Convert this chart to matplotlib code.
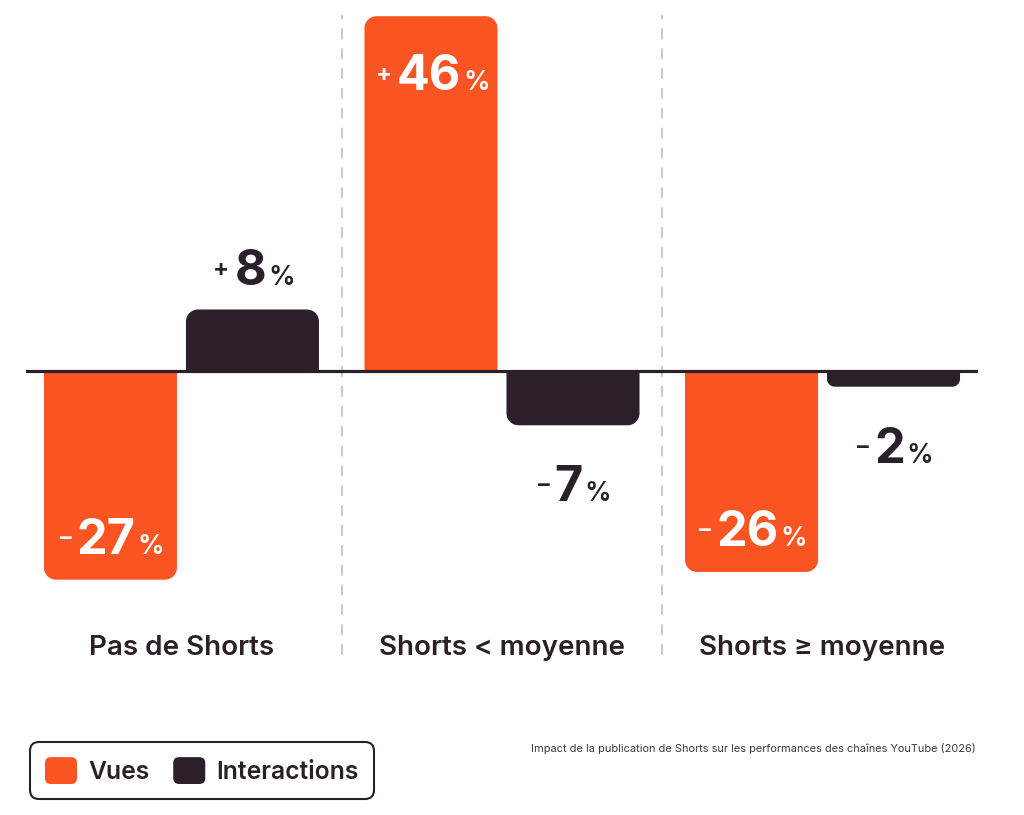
import matplotlib
matplotlib.use("Agg")
import matplotlib.pyplot as plt
from matplotlib.patches import FancyBboxPatch, PathPatch, Patch
from matplotlib.path import Path
from matplotlib.legend_handler import HandlerPatch

# ---------------- data ----------------
categories = ["Pas de Shorts", "Shorts < moyenne", "Shorts \u2265 moyenne"]
series_names = ["Vues", "Interactions"]
vues = [-27, 46, -26]
interactions = [8, -7, -2]
footnote = "Impact de la publication de Shorts sur les performances des cha\u00eenes YouTube (2026)"

# ---------------- style ----------------
ORANGE = "#FA5422"
DARK = "#2B1F2A"
FAM = ["Inter", "DejaVu Sans"]

fig = plt.figure(figsize=(10.24, 8.15), dpi=100)
ax = fig.add_axes([26 / 1024, 135 / 815, 952 / 1024, 680 / 815])
ax.set_xlim(-0.485, 2.485)
ax.set_ylim(-40, 48.1)
ax.axis("off")

bar_w = 0.415
offset = 0.2215
radius_px = 12
K = 0.5523

fig.canvas.draw()
(x0, y0), (x1, y1) = ax.transData.transform([(0, 0), (1, 1)])
ppx = x1 - x0
ppy = y1 - y0


def rounded_bar(xc, v, color):
    """Bar from 0 to v with rounded corners on the outer end only."""
    h_px = abs(v) * ppy
    r = min(radius_px, h_px / 2.0)
    rx = r / ppx
    ry = r / ppy
    s = 1 if v > 0 else -1
    xl = xc - bar_w / 2
    xr = xc + bar_w / 2
    verts = [
        (xl, 0), (xl, v - s * ry),
        (xl, v - s * ry + s * K * ry), (xl + rx - K * rx, v), (xl + rx, v),
        (xr - rx, v),
        (xr - rx + K * rx, v), (xr, v - s * ry + s * K * ry), (xr, v - s * ry),
        (xr, 0), (xl, 0),
    ]
    codes = [Path.MOVETO, Path.LINETO,
             Path.CURVE4, Path.CURVE4, Path.CURVE4,
             Path.LINETO,
             Path.CURVE4, Path.CURVE4, Path.CURVE4,
             Path.LINETO, Path.CLOSEPOLY]
    ax.add_patch(PathPatch(Path(verts, codes), facecolor=color, edgecolor="none", zorder=2))


labels = []


def value_label(xc, v, inside, color):
    sign = "+" if v > 0 else "\u2013"
    if inside:
        dy = -74 if v > 0 else 26
    else:
        dy = 25 if v > 0 else -76
    parts = [(sign, 17, "bold", 9), (str(abs(v)), 35, "bold", 0), ("%", 19, "semibold", 0)]
    texts = []
    for s, fs, wt, rise in parts:
        t = ax.annotate(s, xy=(xc, v), xytext=(0, dy + rise), textcoords="offset pixels",
                        ha="left", va="baseline", fontsize=fs, fontweight=wt,
                        color=color, family=FAM, zorder=4)
        texts.append((t, dy + rise))
    labels.append(texts)


for i in range(len(categories)):
    xv = i - offset
    xi = i + offset
    rounded_bar(xv, vues[i], ORANGE)
    rounded_bar(xi, interactions[i], DARK)
    inside_v = abs(vues[i]) > 15
    inside_i = abs(interactions[i]) > 15
    value_label(xv + 0.005, vues[i], inside_v, "white" if inside_v else DARK)
    value_label(xi + 0.005, interactions[i], inside_i, "white" if inside_i else DARK)
    ax.text(i, -36.7, categories[i], ha="center", va="baseline", fontsize=20,
            fontweight="semibold", color=DARK, family=FAM)

# dividers
for xd in [0.5, 1.5]:
    ax.axvline(xd, ymin=0.037, ymax=0.978, color="#c6c6c6", lw=1.3,
               linestyle=(0, (6, 5)), zorder=1)

# zero line
ax.axhline(0, color=DARK, lw=2.3, zorder=3)

# layout composite labels
fig.canvas.draw()
renderer = fig.canvas.get_renderer()
gaps = [5, 2]
for texts in labels:
    widths = [t.get_window_extent(renderer).width for t, _ in texts]
    total = sum(widths) + sum(gaps)
    pos = -total / 2.0
    for k, (t, dy) in enumerate(texts):
        t.xyann = (pos, dy)
        pos += widths[k] + (gaps[k] if k < len(gaps) else 0)


class RoundedHandler(HandlerPatch):
    def create_artists(self, legend, orig_handle, xdescent, ydescent, width, height,
                       fontsize, trans):
        r = min(width, height) * 0.22
        p = FancyBboxPatch((-xdescent, -ydescent), width, height,
                           boxstyle=f"round,pad=0,rounding_size={r}",
                           facecolor=orig_handle.get_facecolor(), edgecolor="none",
                           transform=trans)
        return [p]


LEG_FS = 17.8
em = LEG_FS * 100 / 72.0
handles = [Patch(facecolor=ORANGE, label=series_names[0]),
           Patch(facecolor=DARK, label=series_names[1])]
leg = fig.legend(handles=handles, handler_map={Patch: RoundedHandler()},
                 loc="lower left", bbox_to_anchor=(30 / 1024, 16 / 815), ncol=2,
                 prop={"family": FAM, "weight": "semibold", "size": LEG_FS},
                 frameon=True, fancybox=True, edgecolor=DARK, facecolor="white",
                 framealpha=1, handlelength=32 / em, handleheight=32 / em,
                 handletextpad=11 / em, columnspacing=24 / em, borderpad=15 / em,
                 borderaxespad=0)
frame = leg.get_frame()
frame.set_linewidth(1.5)
frame.set_boxstyle("round", pad=0, rounding_size=0.36)
for txt in leg.get_texts():
    txt.set_color(DARK)

fig.text(976 / 1024, 1 - 748 / 815, footnote, ha="right", va="center", fontsize=7.9,
         color="#3a3a3a", family=FAM)

fig.savefig("out.png", dpi=100, facecolor="white")
